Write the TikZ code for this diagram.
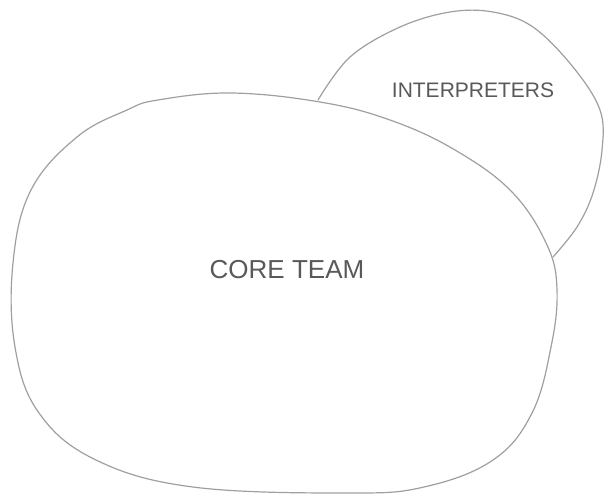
\documentclass[tikz,border=0pt]{standalone}
\usepackage{fontspec}
\setmainfont{Liberation Sans}
\usepackage{tikz}
\usetikzlibrary{positioning}

\begin{document}
\begin{tikzpicture} [
        x = 1pt, y = -1pt,
        blob/.style = {draw=gray!75, line width=1.2pt, line join=round, line cap=round},
        tag/.style = {text=gray!70!black, inner sep=0pt}
    ]

    \useasboundingbox (0,0) rectangle (604,495);

    % the small group behind
    \draw[blob] plot[smooth, tension=0.6] coordinates {
        (318,100) (350,57) (400,27) (450,12) (493,12) (533,27)
        (573,67) (600,110) (602,150) (593,193) (577,227) (553,257)};

    % the big group in front
    \draw[blob] plot[smooth cycle, tension=0.65] coordinates {
        (158,100) (231,93) (320,102) (390,120) (455,150) (512,192)
        (547,245) (557,290) (551,347) (532,413) (493,460) (424,487)
        (347,493) (193,487) (96,460) (39,413) (15,347) (13,263)
        (31,190) (77,137) (127,110)};

    \node[tag, font=\fontsize{26}{30}\selectfont] (core)   at (287,270) {CORE TEAM};
    \node[tag, font=\fontsize{21}{25}\selectfont] (interp) at (473,90)  {INTERPRETERS};

\end{tikzpicture}
\end{document}
